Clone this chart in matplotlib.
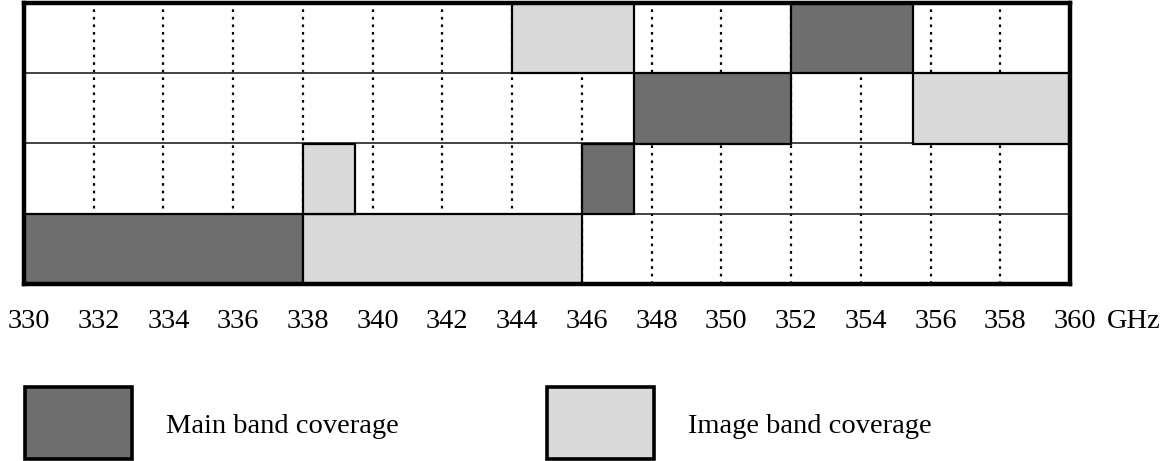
import matplotlib
matplotlib.use("Agg")
import matplotlib.pyplot as plt
from matplotlib.patches import Rectangle
from matplotlib.transforms import ScaledTranslation

# Frequency axis (GHz)
freq_min, freq_max = 330, 360
tick_freqs = list(range(330, 361, 2))
tick_labels = [str(f) for f in tick_freqs]

# Band coverage per tuning row (row 0 = bottom); (start GHz, stop GHz)
main_rows = [0, 1, 2, 3]
main_start = [330.0, 346.0, 347.5, 352.0]
main_stop = [338.0, 347.5, 352.0, 355.5]

image_rows = [0, 1, 2, 3]
image_start = [338.0, 338.0, 355.5, 344.0]
image_stop = [346.0, 339.5, 360.0, 347.5]

n_rows = 4
main_color = "#6e6e6e"
image_color = "#d9d9d9"
serif = ["Liberation Serif", "DejaVu Serif"]
fs = 20.5

W, H = 1166, 461
fig = plt.figure(figsize=(W / 100, H / 100), dpi=100)
ax = fig.add_axes([24 / W, 1 - 284 / H, (1070 - 24) / W, (284 - 3) / H])
ax.set_xlim(freq_min, freq_max)
ax.set_ylim(0, n_rows)

# Dotted frequency grid
for f in tick_freqs[1:-1]:
    ax.axvline(f, color="black", linestyle=(0, (1.2, 2.2)), linewidth=1.6, zorder=1)

# Row separators
for r in range(1, n_rows):
    ax.axhline(r, color="#222222", linewidth=1.2, zorder=3)

ax.barh([r + 0.5 for r in main_rows], [b - a for a, b in zip(main_start, main_stop)],
        left=main_start, height=1.0, color=main_color, edgecolor="black",
        linewidth=1.6, zorder=4)
ax.barh([r + 0.5 for r in image_rows], [b - a for a, b in zip(image_start, image_stop)],
        left=image_start, height=1.0, color=image_color, edgecolor="black",
        linewidth=1.6, zorder=4)

for s in ax.spines.values():
    s.set_linewidth(3.2)
    s.set_zorder(6)

ax.set_yticks([])
ax.set_xticks(tick_freqs)
ax.set_xticklabels(tick_labels, fontfamily=serif, fontsize=fs)
# labels sit on a common baseline 44 px below the frame
ax.tick_params(axis="x", length=0, pad=44 * 0.72)
shift = ScaledTranslation(5 / 100, 0, fig.dpi_scale_trans)
for lbl in ax.get_xticklabels():
    lbl.set_verticalalignment("baseline")
    lbl.set_transform(lbl.get_transform() + shift)

fig.text(1107 / W, 1 - 328 / H, "GHz", fontfamily=serif, fontsize=fs,
         ha="left", va="baseline")

# Legend swatches
def swatch(x0, x1, color, label, tx):
    fig.patches.append(Rectangle((x0 / W, 1 - 459 / H), (x1 - x0) / W, 72 / H,
                                 transform=fig.transFigure, facecolor=color,
                                 edgecolor="black", linewidth=2.6))
    fig.text(tx / W, 1 - 433 / H, label, fontfamily=serif, fontsize=fs,
             ha="left", va="baseline")

swatch(25, 132, main_color, "Main band coverage", 166)
swatch(547, 654, image_color, "Image band coverage", 688)

fig.savefig("out.png", dpi=100)
